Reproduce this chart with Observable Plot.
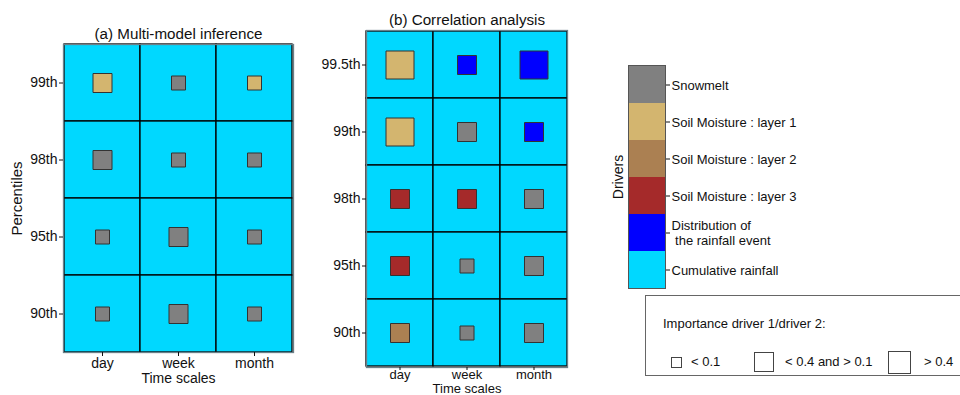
<!DOCTYPE html>
<html><head><meta charset="utf-8">
<script src="https://cdn.jsdelivr.net/npm/d3@7"></script>
<script src="https://cdn.jsdelivr.net/npm/@observablehq/plot@0.6"></script>
<style>
body{margin:0;background:#fff;font-family:"Liberation Sans",Arial,sans-serif;color:#111;}
#root{position:relative;width:960px;height:395px;overflow:hidden;}
.abs{position:absolute;}
#sizeLegend{left:645px;top:295px;width:340px;height:81px;border:1px solid #666;box-sizing:border-box;font-size:13px;}
#sizeLegend .ttl{position:absolute;left:17px;top:20px;}
#sizeLegend .sq{position:absolute;border:1px solid #444;box-sizing:border-box;background:#fff;}
#sizeLegend .lb{position:absolute;line-height:14px;}
</style></head><body><div id="root"></div>
<script>
// ---------- data ----------
const timeScales = ["day", "week", "month"];
const percentilesA = ["99th", "98th", "95th", "90th"];
const percentilesB = ["99.5th", "99th", "98th", "95th", "90th"];
const drivers = ["Snowmelt", "Soil Moisture : layer 1", "Soil Moisture : layer 2", "Soil Moisture : layer 3", "Distribution of\n the rainfall event", "Cumulative rainfall"];
const driverColors = ["#808080", "#D3B56F", "#AB8052", "#A52A2A", "#0000FF", "#00D8FF"];
const importanceLabels = ["< 0.1", "< 0.4 and > 0.1", "> 0.4"];
const backgroundDriver = "Cumulative rainfall";

// driver 1 per cell (rows top->bottom, cols day/week/month)
const driversA = [
  ["Soil Moisture : layer 1", "Snowmelt", "Soil Moisture : layer 1"],
  ["Snowmelt", "Snowmelt", "Snowmelt"],
  ["Snowmelt", "Snowmelt", "Snowmelt"],
  ["Snowmelt", "Snowmelt", "Snowmelt"]
];
// importance class index (0: <0.1, 1: 0.1-0.4, 2: >0.4)
const importanceA = [
  [1, 0, 0],
  [1, 0, 0],
  [0, 1, 0],
  [0, 1, 0]
];
const driversB = [
  ["Soil Moisture : layer 1", "Distribution of\n the rainfall event", "Distribution of\n the rainfall event"],
  ["Soil Moisture : layer 1", "Snowmelt", "Distribution of\n the rainfall event"],
  ["Soil Moisture : layer 3", "Soil Moisture : layer 3", "Snowmelt"],
  ["Soil Moisture : layer 3", "Snowmelt", "Snowmelt"],
  ["Soil Moisture : layer 2", "Snowmelt", "Snowmelt"]
];
const importanceB = [
  [2, 1, 2],
  [2, 1, 1],
  [1, 1, 1],
  [1, 0, 1],
  [1, 0, 1]
];

// ---------- styles ----------
const squareSide = [14, 19, 28];   // px side per importance class in panels
const legendSide = [11, 20, 23];   // px side in the size legend
const FONT = '"Liberation Sans", Arial, sans-serif';

function table(pcts, drv, imp) {
  const out = [];
  pcts.forEach((p, i) => timeScales.forEach((t, j) => out.push({pct: p, time: t, driver: drv[i][j], cls: imp[i][j]})));
  return out;
}

const color = {domain: drivers, range: driverColors};

function panel({data, pcts, title, yLabel, width, height, m, titleDy, xLabelDy, tickSizeX, tickPadX, xFont}) {
  const marks = [
    Plot.cell(data, {x: "time", y: "pct", fill: () => backgroundDriver, stroke: "#000", strokeWidth: 1.3}),
    Plot.frame({stroke: "#6a7f88", strokeWidth: 1.3}),
  ];
  squareSide.forEach((s, k) => {
    marks.push(Plot.dot(data.filter(d => d.cls === k), {
      x: "time", y: "pct", symbol: "square", r: s / Math.sqrt(Math.PI),
      fill: "driver", stroke: "#333", strokeWidth: 1
    }));
  });
  marks.push(
    Plot.axisX({tickSize: tickSizeX, tickPadding: tickPadX, label: null, fontSize: xFont}),
    Plot.axisY({tickSize: 4, tickPadding: 2, label: null, fontSize: 14}),
    Plot.text([title], {frameAnchor: "top", lineAnchor: "middle", dy: titleDy, fontSize: 15.2}),
    Plot.text(["Time scales"], {frameAnchor: "bottom", lineAnchor: "middle", dy: xLabelDy, fontSize: xFont})
  );
  if (yLabel) marks.push(Plot.text([yLabel], {frameAnchor: "left", textAnchor: "middle", lineAnchor: "middle", dx: -46, rotate: -90, fontSize: 15}));
  return Plot.plot({
    width, height,
    marginLeft: m[0], marginRight: m[1], marginTop: m[2], marginBottom: m[3],
    style: {fontFamily: FONT, color: "#111", background: "transparent", overflow: "visible"},
    x: {domain: timeScales, padding: 0},
    y: {domain: pcts, padding: 0},
    color,
    marks
  });
}

const root = document.getElementById("root");
function place(node, left, top) {
  const d = document.createElement("div");
  d.className = "abs"; d.style.left = left + "px"; d.style.top = top + "px";
  d.appendChild(node); root.appendChild(d);
}

place(panel({
  data: table(percentilesA, driversA, importanceA), pcts: percentilesA,
  title: "(a) Multi-model inference", yLabel: "Percentiles",
  width: 300, height: 395, m: [63, 7, 44, 43], titleDy: -10, xLabelDy: 26,
  tickSizeX: 4, tickPadX: 2, xFont: 14
}), 0, 0);

place(panel({
  data: table(percentilesB, driversB, importanceB), pcts: percentilesB,
  title: "(b) Correlation analysis", yLabel: null,
  width: 300, height: 395, m: [66, 33, 30, 28], titleDy: -10, xLabelDy: 21,
  tickSizeX: 3, tickPadX: -1, xFont: 13
}), 300, 0);

// drivers colour legend
place(Plot.plot({
  width: 360, height: 300,
  marginLeft: 28, marginRight: 295, marginTop: 65, marginBottom: 12,
  style: {fontFamily: FONT, color: "#111", background: "transparent", overflow: "visible"},
  y: {domain: drivers, padding: 0},
  color,
  marks: [
    Plot.cell(drivers, {y: d => d, fill: d => d}),
    Plot.frame({stroke: "#555", strokeWidth: 1}),
    Plot.axisY({anchor: "right", tickSize: 4, tickPadding: 2, label: null, fontSize: 13, lineHeight: 1.15}),
    Plot.text(["Drivers"], {frameAnchor: "left", textAnchor: "middle", lineAnchor: "middle", dx: -10, rotate: -90, fontSize: 14})
  ]
}), 600, 0);

// importance size legend
const lg = document.createElement("div");
lg.id = "sizeLegend"; lg.className = "abs";
lg.innerHTML = '<div class="ttl">Importance driver 1/driver 2:</div>';
const sqLeft = [25, 108, 242], lbLeft = [45, 139, 278];
importanceLabels.forEach((lab, k) => {
  const s = legendSide[k];
  const sq = document.createElement("div");
  sq.className = "sq";
  sq.style.cssText = `left:${sqLeft[k]}px;top:${67 - s / 2 - 1}px;width:${s}px;height:${s}px;`;
  lg.appendChild(sq);
  const lb = document.createElement("div");
  lb.className = "lb"; lb.textContent = lab;
  lb.style.cssText = `left:${lbLeft[k]}px;top:${59}px;`;
  lg.appendChild(lb);
});
root.appendChild(lg);
</script>
</body></html>
